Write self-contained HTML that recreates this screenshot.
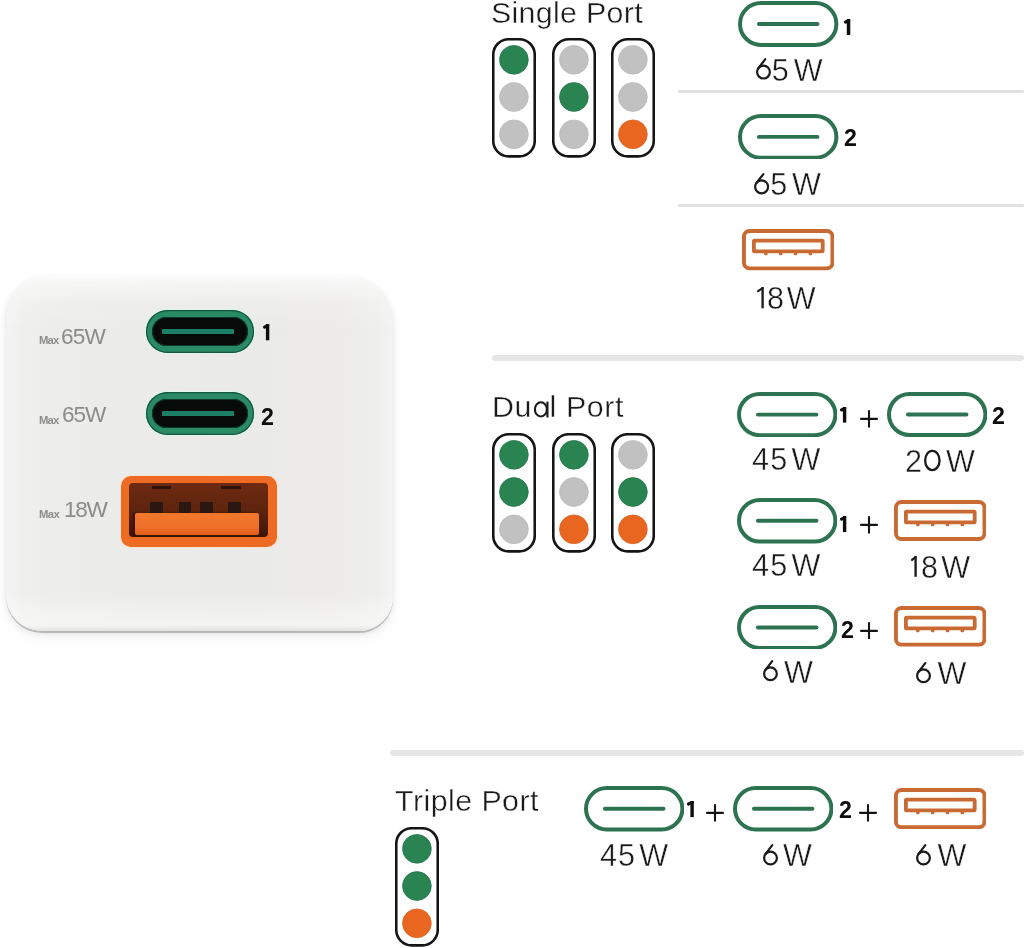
<!DOCTYPE html>
<html><head><meta charset="utf-8"><style>
*{margin:0;padding:0;box-sizing:border-box}
html,body{width:1025px;height:948px;background:#fff;overflow:hidden}
body{position:relative;font-family:"Liberation Sans",sans-serif;color:#1c1c1c}
.a{position:absolute}
.h,.w,.n,.cl{line-height:1;white-space:nowrap;will-change:transform}
.h{color:#1a1a1a;-webkit-text-stroke:0.4px #fff}
.w{color:#1a1a1a;-webkit-text-stroke:0.4px #fff}
.w .g{margin-left:3.3px}
.w .z,.h .z{color:transparent}
.n{font-weight:bold;color:#0d0d0d}
.cl{color:#8b8b8b}
.mx{font-weight:bold;color:#8e8e8e}
</style></head><body>
<div class="a" style="left:6px;top:274.5px;width:387px;height:356.5px;border-radius:40px 46px 34px 36px;background:linear-gradient(180deg,rgba(255,255,255,0.85) 0px,rgba(255,255,255,0.45) 12px,rgba(255,255,255,0.12) 30px,rgba(255,255,255,0) 60px,rgba(255,255,255,0) 318px,rgba(255,255,255,0.3) 336px,rgba(255,255,255,0.45) 350px,rgba(0,0,0,0.04) 356px),linear-gradient(90deg,#f4f4f4 0px,#f0f0ef 14px,#ededec 40px,#ebebe9 120px,#eaeae8 230px,#ecebea 330px,#efefee 372px,#f3f3f3 387px);box-shadow:0 1.2px 0.8px rgba(0,0,0,0.22),0 3px 6px rgba(0,0,0,0.07),0 8px 14px rgba(0,0,0,0.04)"></div>
<div class="a" style="left:145.6px;top:309.7px;width:108.6px;height:43.4px;border-radius:21.7px;background:#2a8a66;box-shadow:0 0 0 1px #dcf6ea, inset 0 0 0 1.2px #15563d">
<div class="a" style="left:6.2px;top:7.2px;width:96.1px;height:29.4px;border-radius:14.7px;background:#060a08;box-shadow:inset 0 0 0 1px #0e3a2a"></div>
<div class="a" style="left:16.8px;top:19.1px;width:71.3px;height:5.4px;background:#1c7f68;border-radius:1px"></div></div>
<div class="a" style="left:145.5px;top:391.9px;width:108.6px;height:43.1px;border-radius:21.55px;background:#2a8a66;box-shadow:0 0 0 1px #dcf6ea, inset 0 0 0 1.2px #15563d">
<div class="a" style="left:6.2px;top:7.2px;width:96.1px;height:29.1px;border-radius:14.55px;background:#060a08;box-shadow:inset 0 0 0 1px #0e3a2a"></div>
<div class="a" style="left:16.8px;top:18.95px;width:71.3px;height:5.4px;background:#1c7f68;border-radius:1px"></div></div>
<div class="a" style="left:121px;top:475.5px;width:156px;height:71.5px;border-radius:10px;background:#ed6b22;box-shadow:0 0 0 1px #fbe3d0">
<div class="a" style="left:7.5px;top:7.6px;width:139.8px;height:54px;border-radius:4px;background:linear-gradient(180deg,#6e2a10 0%,#5e240e 50%,#3c1408 100%)"></div>
<div class="a" style="left:13.8px;top:37.5px;width:124px;height:22px;border-radius:2px;background:linear-gradient(180deg,#f2782c 0%,#f0702a 60%,#e0601c 100%);box-shadow:-2px 0 2px #3a1006"></div>
</div>
<div class="a" style="left:150.4px;top:502.3px;width:12.7px;height:11px;background:#2a1711;border-radius:1px"></div>
<div class="a" style="left:178.7px;top:502.3px;width:12.7px;height:11px;background:#2a1711;border-radius:1px"></div>
<div class="a" style="left:200.3px;top:502.3px;width:13.1px;height:11px;background:#2a1711;border-radius:1px"></div>
<div class="a" style="left:227.5px;top:502.3px;width:13.2px;height:11px;background:#2a1711;border-radius:1px"></div>
<div class="a" style="left:152.1px;top:485.5px;width:19.4px;height:3.8px;background:#2c1208"></div>
<div class="a" style="left:221.3px;top:485.5px;width:19.4px;height:3.8px;background:#2c1208"></div>
<svg class="a" style="left:491.6px;top:37.9px" width="44" height="120" viewBox="0 0 44 120"><rect x="1.25" y="1.25" width="41.5" height="117.1" rx="15.5" ry="15.5" fill="#fff" stroke="#151515" stroke-width="2.6"/><circle cx="21.9" cy="21.8" r="14.4" fill="#2a8451" stroke="#21744a" stroke-width="0.7"/><circle cx="21.9" cy="59.0" r="14.4" fill="#c1c1c1" stroke="#b9b9b9" stroke-width="0.7"/><circle cx="21.9" cy="96.3" r="14.4" fill="#c1c1c1" stroke="#b9b9b9" stroke-width="0.7"/></svg>
<svg class="a" style="left:552.3px;top:37.9px" width="44" height="120" viewBox="0 0 44 120"><rect x="1.25" y="1.25" width="41.5" height="117.1" rx="15.5" ry="15.5" fill="#fff" stroke="#151515" stroke-width="2.6"/><circle cx="21.9" cy="21.8" r="14.4" fill="#c1c1c1" stroke="#b9b9b9" stroke-width="0.7"/><circle cx="21.9" cy="59.0" r="14.4" fill="#2a8451" stroke="#21744a" stroke-width="0.7"/><circle cx="21.9" cy="96.3" r="14.4" fill="#c1c1c1" stroke="#b9b9b9" stroke-width="0.7"/></svg>
<svg class="a" style="left:611.2px;top:37.9px" width="44" height="120" viewBox="0 0 44 120"><rect x="1.25" y="1.25" width="41.5" height="117.1" rx="15.5" ry="15.5" fill="#fff" stroke="#151515" stroke-width="2.6"/><circle cx="21.9" cy="21.8" r="14.4" fill="#c1c1c1" stroke="#b9b9b9" stroke-width="0.7"/><circle cx="21.9" cy="59.0" r="14.4" fill="#c1c1c1" stroke="#b9b9b9" stroke-width="0.7"/><circle cx="21.9" cy="96.3" r="14.4" fill="#e86620" stroke="#dc5e1c" stroke-width="0.7"/></svg>
<svg class="a" style="left:491.6px;top:432.9px" width="44" height="120" viewBox="0 0 44 120"><rect x="1.25" y="1.25" width="41.5" height="117.1" rx="15.5" ry="15.5" fill="#fff" stroke="#151515" stroke-width="2.6"/><circle cx="21.9" cy="21.8" r="14.4" fill="#2a8451" stroke="#21744a" stroke-width="0.7"/><circle cx="21.9" cy="59.0" r="14.4" fill="#2a8451" stroke="#21744a" stroke-width="0.7"/><circle cx="21.9" cy="96.3" r="14.4" fill="#c1c1c1" stroke="#b9b9b9" stroke-width="0.7"/></svg>
<svg class="a" style="left:552.4px;top:432.9px" width="44" height="120" viewBox="0 0 44 120"><rect x="1.25" y="1.25" width="41.5" height="117.1" rx="15.5" ry="15.5" fill="#fff" stroke="#151515" stroke-width="2.6"/><circle cx="21.9" cy="21.8" r="14.4" fill="#2a8451" stroke="#21744a" stroke-width="0.7"/><circle cx="21.9" cy="59.0" r="14.4" fill="#c1c1c1" stroke="#b9b9b9" stroke-width="0.7"/><circle cx="21.9" cy="96.3" r="14.4" fill="#e86620" stroke="#dc5e1c" stroke-width="0.7"/></svg>
<svg class="a" style="left:610.8px;top:432.9px" width="44" height="120" viewBox="0 0 44 120"><rect x="1.25" y="1.25" width="41.5" height="117.1" rx="15.5" ry="15.5" fill="#fff" stroke="#151515" stroke-width="2.6"/><circle cx="21.9" cy="21.8" r="14.4" fill="#c1c1c1" stroke="#b9b9b9" stroke-width="0.7"/><circle cx="21.9" cy="59.0" r="14.4" fill="#2a8451" stroke="#21744a" stroke-width="0.7"/><circle cx="21.9" cy="96.3" r="14.4" fill="#e86620" stroke="#dc5e1c" stroke-width="0.7"/></svg>
<svg class="a" style="left:394.5px;top:827.3px" width="44" height="120" viewBox="0 0 44 120"><rect x="1.25" y="1.25" width="41.5" height="117.1" rx="15.5" ry="15.5" fill="#fff" stroke="#151515" stroke-width="2.6"/><circle cx="21.9" cy="21.8" r="14.4" fill="#2a8451" stroke="#21744a" stroke-width="0.7"/><circle cx="21.9" cy="59.0" r="14.4" fill="#2a8451" stroke="#21744a" stroke-width="0.7"/><circle cx="21.9" cy="96.3" r="14.4" fill="#e86620" stroke="#dc5e1c" stroke-width="0.7"/></svg>
<div class="a" style="left:678.3px;top:90.3px;width:345.7px;height:3px;background:#e1e1e1;border-radius:1.5px"></div>
<div class="a" style="left:678.3px;top:204.3px;width:345.7px;height:3px;background:#e2e2e2;border-radius:1.5px"></div>
<div class="a" style="left:491.7px;top:355.0px;width:532.3px;height:6px;background:#e6e6e6;border-radius:3.0px"></div>
<div class="a" style="left:389.7px;top:749.5px;width:634.3px;height:6px;background:#e6e6e6;border-radius:3.0px"></div>
<svg class="a" style="left:738.2px;top:1.3px" width="100.4" height="45.9" viewBox="0 0 100.4 45.9"><rect x="2.0" y="2.0" width="96.4" height="41.9" rx="20.95" fill="none" stroke="#2d7352" stroke-width="4.0"/><line x1="20.9" y1="22.95" x2="79.5" y2="22.95" stroke="#2d7352" stroke-width="3.9" stroke-linecap="round"/></svg>
<svg class="a" style="left:738.4px;top:113.6px" width="100.4" height="45.8" viewBox="0 0 100.4 45.8"><rect x="2.0" y="2.0" width="96.4" height="41.8" rx="20.9" fill="none" stroke="#2d7352" stroke-width="4.0"/><line x1="20.9" y1="22.9" x2="79.5" y2="22.9" stroke="#2d7352" stroke-width="3.9" stroke-linecap="round"/></svg>
<svg class="a" style="left:742px;top:229.3px" width="92.4" height="41.3" viewBox="0 0 92.4 41.3"><rect x="1.95" y="1.95" width="88.5" height="37.4" rx="5.5" fill="none" stroke="#c96a32" stroke-width="3.9"/><rect x="11.9" y="11.6" width="68.8" height="10.7" rx="0.6" fill="none" stroke="#c96a32" stroke-width="3.8"/><rect x="22.0" y="23.5" width="3.6" height="2.8" rx="1.2" fill="#c96a32"/><rect x="36.9" y="23.5" width="3.6" height="2.8" rx="1.2" fill="#c96a32"/><rect x="51.7" y="23.5" width="3.6" height="2.8" rx="1.2" fill="#c96a32"/><rect x="66.6" y="23.5" width="3.6" height="2.8" rx="1.2" fill="#c96a32"/></svg>
<svg class="a" style="left:736.6px;top:392.3px" width="100.4" height="45.2" viewBox="0 0 100.4 45.2"><rect x="2.0" y="2.0" width="96.4" height="41.2" rx="20.6" fill="none" stroke="#2d7352" stroke-width="4.0"/><line x1="20.9" y1="22.6" x2="79.5" y2="22.6" stroke="#2d7352" stroke-width="3.9" stroke-linecap="round"/></svg>
<svg class="a" style="left:886.6px;top:392.4px" width="100.4" height="45.0" viewBox="0 0 100.4 45.0"><rect x="2.0" y="2.0" width="96.4" height="41.0" rx="20.5" fill="none" stroke="#2d7352" stroke-width="4.0"/><line x1="20.9" y1="22.5" x2="79.5" y2="22.5" stroke="#2d7352" stroke-width="3.9" stroke-linecap="round"/></svg>
<svg class="a" style="left:737px;top:498px" width="100.4" height="45.6" viewBox="0 0 100.4 45.6"><rect x="2.0" y="2.0" width="96.4" height="41.6" rx="20.8" fill="none" stroke="#2d7352" stroke-width="4.0"/><line x1="20.9" y1="22.8" x2="79.5" y2="22.8" stroke="#2d7352" stroke-width="3.9" stroke-linecap="round"/></svg>
<svg class="a" style="left:894.1px;top:500.4px" width="92.4" height="40.9" viewBox="0 0 92.4 40.9"><rect x="1.95" y="1.95" width="88.5" height="37.0" rx="5.5" fill="none" stroke="#c96a32" stroke-width="3.9"/><rect x="11.9" y="11.6" width="68.8" height="10.7" rx="0.6" fill="none" stroke="#c96a32" stroke-width="3.8"/><rect x="22.0" y="23.5" width="3.6" height="2.8" rx="1.2" fill="#c96a32"/><rect x="36.9" y="23.5" width="3.6" height="2.8" rx="1.2" fill="#c96a32"/><rect x="51.7" y="23.5" width="3.6" height="2.8" rx="1.2" fill="#c96a32"/><rect x="66.6" y="23.5" width="3.6" height="2.8" rx="1.2" fill="#c96a32"/></svg>
<svg class="a" style="left:736.5px;top:604.5px" width="100.4" height="44.9" viewBox="0 0 100.4 44.9"><rect x="2.0" y="2.0" width="96.4" height="40.9" rx="20.45" fill="none" stroke="#2d7352" stroke-width="4.0"/><line x1="20.9" y1="22.45" x2="79.5" y2="22.45" stroke="#2d7352" stroke-width="3.9" stroke-linecap="round"/></svg>
<svg class="a" style="left:894px;top:606.4px" width="92.4" height="40.6" viewBox="0 0 92.4 40.6"><rect x="1.95" y="1.95" width="88.5" height="36.7" rx="5.5" fill="none" stroke="#c96a32" stroke-width="3.9"/><rect x="11.9" y="11.6" width="68.8" height="10.7" rx="0.6" fill="none" stroke="#c96a32" stroke-width="3.8"/><rect x="22.0" y="23.5" width="3.6" height="2.8" rx="1.2" fill="#c96a32"/><rect x="36.9" y="23.5" width="3.6" height="2.8" rx="1.2" fill="#c96a32"/><rect x="51.7" y="23.5" width="3.6" height="2.8" rx="1.2" fill="#c96a32"/><rect x="66.6" y="23.5" width="3.6" height="2.8" rx="1.2" fill="#c96a32"/></svg>
<svg class="a" style="left:583.5px;top:786.2px" width="100.4" height="45.5" viewBox="0 0 100.4 45.5"><rect x="2.0" y="2.0" width="96.4" height="41.5" rx="20.75" fill="none" stroke="#2d7352" stroke-width="4.0"/><line x1="20.9" y1="22.75" x2="79.5" y2="22.75" stroke="#2d7352" stroke-width="3.9" stroke-linecap="round"/></svg>
<svg class="a" style="left:732.5px;top:786.4px" width="100.4" height="45.5" viewBox="0 0 100.4 45.5"><rect x="2.0" y="2.0" width="96.4" height="41.5" rx="20.75" fill="none" stroke="#2d7352" stroke-width="4.0"/><line x1="20.9" y1="22.75" x2="79.5" y2="22.75" stroke="#2d7352" stroke-width="3.9" stroke-linecap="round"/></svg>
<svg class="a" style="left:894px;top:788.4px" width="92.4" height="41.1" viewBox="0 0 92.4 41.1"><rect x="1.95" y="1.95" width="88.5" height="37.2" rx="5.5" fill="none" stroke="#c96a32" stroke-width="3.9"/><rect x="11.9" y="11.6" width="68.8" height="10.7" rx="0.6" fill="none" stroke="#c96a32" stroke-width="3.8"/><rect x="22.0" y="23.5" width="3.6" height="2.8" rx="1.2" fill="#c96a32"/><rect x="36.9" y="23.5" width="3.6" height="2.8" rx="1.2" fill="#c96a32"/><rect x="51.7" y="23.5" width="3.6" height="2.8" rx="1.2" fill="#c96a32"/><rect x="66.6" y="23.5" width="3.6" height="2.8" rx="1.2" fill="#c96a32"/></svg>
<svg class="a" style="left:859.9px;top:410.0px" width="18" height="17.8" viewBox="0 0 18 17.8"><line x1="1.05" y1="8.9" x2="16.95" y2="8.9" stroke="#151515" stroke-width="2.1" stroke-linecap="round"/><line x1="9.0" y1="1.05" x2="9.0" y2="16.75" stroke="#151515" stroke-width="2.1" stroke-linecap="round"/></svg>
<svg class="a" style="left:859.9px;top:515.9px" width="18" height="17.8" viewBox="0 0 18 17.8"><line x1="1.05" y1="8.9" x2="16.95" y2="8.9" stroke="#151515" stroke-width="2.1" stroke-linecap="round"/><line x1="9.0" y1="1.05" x2="9.0" y2="16.75" stroke="#151515" stroke-width="2.1" stroke-linecap="round"/></svg>
<svg class="a" style="left:859.85px;top:621.6px" width="18" height="17.8" viewBox="0 0 18 17.8"><line x1="1.05" y1="8.9" x2="16.95" y2="8.9" stroke="#151515" stroke-width="2.1" stroke-linecap="round"/><line x1="9.0" y1="1.05" x2="9.0" y2="16.75" stroke="#151515" stroke-width="2.1" stroke-linecap="round"/></svg>
<svg class="a" style="left:706.2px;top:804.1px" width="18" height="17.8" viewBox="0 0 18 17.8"><line x1="1.05" y1="8.9" x2="16.95" y2="8.9" stroke="#151515" stroke-width="2.1" stroke-linecap="round"/><line x1="9.0" y1="1.05" x2="9.0" y2="16.75" stroke="#151515" stroke-width="2.1" stroke-linecap="round"/></svg>
<svg class="a" style="left:858.5px;top:804.1px" width="18" height="17.8" viewBox="0 0 18 17.8"><line x1="1.05" y1="8.9" x2="16.95" y2="8.9" stroke="#151515" stroke-width="2.1" stroke-linecap="round"/><line x1="9.0" y1="1.05" x2="9.0" y2="16.75" stroke="#151515" stroke-width="2.1" stroke-linecap="round"/></svg>
<div id="H1" class="a h" style="left:490.60px;top:-2.68px;font-size:30.4px;letter-spacing:0.30px">Single Port</div>
<div id="H2" class="a h" style="left:492.40px;top:390.96px;font-size:30.4px;letter-spacing:0.60px">Du<span class=z>a</span>l Port</div>
<div id="H3" class="a h" style="left:394.56px;top:785.20px;font-size:30.4px;letter-spacing:0.44px">Triple Port</div>
<div id="W1" class="a w" style="left:752.80px;top:54.88px;font-size:30.6px;letter-spacing:1.67px"><span class=z>6</span>5<span class=g>W</span></div>
<div id="W2" class="a w" style="left:751.96px;top:168.72px;font-size:30.6px;letter-spacing:1.31px"><span class=z>6</span>5<span class=g>W</span></div>
<div id="W3" class="a w" style="left:767.08px;top:282.96px;font-size:30.6px;letter-spacing:-0.48px">8<span class=g>W</span></div>
<div id="W4" class="a w" style="left:752.08px;top:444.48px;font-size:30.6px;letter-spacing:1.13px">45<span class=g>W</span></div>
<div id="W5" class="a w" style="left:905.00px;top:445.72px;font-size:30.6px;letter-spacing:1.89px">2<span class=z>0</span><span class=g>W</span></div>
<div id="W6" class="a w" style="left:752.08px;top:550.48px;font-size:30.6px;letter-spacing:1.13px">45<span class=g>W</span></div>
<div id="W7" class="a w" style="left:921.32px;top:551.72px;font-size:30.6px;letter-spacing:0.01px">8<span class=g>W</span></div>
<div id="W8" class="a w" style="left:761.00px;top:656.64px;font-size:30.6px;letter-spacing:2.58px"><span class=z>6</span><span class=g>W</span></div>
<div id="W9" class="a w" style="left:914.52px;top:658.04px;font-size:30.6px;letter-spacing:2.05px"><span class=z>6</span><span class=g>W</span></div>
<div id="W10" class="a w" style="left:599.56px;top:839.56px;font-size:30.6px;letter-spacing:0.99px">45<span class=g>W</span></div>
<div id="W11" class="a w" style="left:760.12px;top:840.32px;font-size:30.6px;letter-spacing:2.62px"><span class=z>6</span><span class=g>W</span></div>
<div id="W12" class="a w" style="left:914.52px;top:840.32px;font-size:30.6px;letter-spacing:2.05px"><span class=z>6</span><span class=g>W</span></div>
<div id="N2" class="a n" style="left:843.72px;top:126.64px;font-size:23.2px;letter-spacing:0.00px">2</div>
<div id="N4" class="a n" style="left:992.04px;top:404.56px;font-size:23.2px;letter-spacing:0.00px">2</div>
<div id="N6" class="a n" style="left:840.56px;top:619.48px;font-size:23.2px;letter-spacing:0.00px">2</div>
<div id="N8" class="a n" style="left:838.96px;top:798.88px;font-size:23.2px;letter-spacing:0.00px">2</div>
<div id="C2n" class="a n" style="left:260.92px;top:406.16px;font-size:23.2px;letter-spacing:0.00px">2</div>
<div id="L1" class="a cl" style="left:61.48px;top:325.68px;font-size:22.6px;letter-spacing:-0.81px">65W</div>
<div id="L2" class="a cl" style="left:62.12px;top:404.20px;font-size:22.6px;letter-spacing:-1.12px">65W</div>
<div id="L3" class="a cl" style="left:64.08px;top:498.76px;font-size:22.6px;letter-spacing:-1.30px">18W</div>
<div id="M1" class="a cl mx" style="left:38.68px;top:334.92px;font-size:11.3px;letter-spacing:-0.81px">Max</div>
<div id="M2" class="a cl mx" style="left:38.68px;top:414.88px;font-size:11.3px;letter-spacing:-0.81px">Max</div>
<div id="M3" class="a cl mx" style="left:38.52px;top:508.80px;font-size:11.3px;letter-spacing:-0.62px">Max</div>
<svg class="a" style="left:843.00px;top:18.00px" width="8.30" height="18.00" viewBox="0 0 8.30 18.00"><rect x="3.80" y="1" width="3.5" height="16.00" fill="#0d0d0d"/><line x1="2.58" y1="4.04" x2="5.55" y2="2.58" stroke="#0d0d0d" stroke-width="3.22" stroke-linecap="round"/></svg>
<svg class="a" style="left:753.50px;top:56.30px" width="19.00" height="25.60"><circle cx="9.50" cy="16.10" r="6.40" fill="none" stroke="#1a1a1a" stroke-width="2.2"/><line x1="11.30" y1="3.10" x2="4.39" y2="12.24" stroke="#1a1a1a" stroke-width="2.2" stroke-linecap="round"/></svg>
<svg class="a" style="left:530px;top:398px" width="22" height="23" viewBox="0 0 22 23"><ellipse cx="10.9" cy="11.4" rx="6.0" ry="7.1" fill="none" stroke="#1a1a1a" stroke-width="2.1"/><line x1="17.45" y1="3.6" x2="17.45" y2="19.5" stroke="#1a1a1a" stroke-width="2.1"/></svg>
<svg class="a" style="left:752.10px;top:170.70px" width="19.20" height="25.40"><circle cx="9.60" cy="15.80" r="6.50" fill="none" stroke="#1a1a1a" stroke-width="2.2"/><line x1="11.42" y1="3.10" x2="4.52" y2="11.74" stroke="#1a1a1a" stroke-width="2.2" stroke-linecap="round"/></svg>
<svg class="a" style="left:761.00px;top:658.40px" width="18.90" height="25.20"><circle cx="9.45" cy="15.75" r="6.35" fill="none" stroke="#1a1a1a" stroke-width="2.2"/><line x1="11.24" y1="3.10" x2="4.44" y2="11.85" stroke="#1a1a1a" stroke-width="2.2" stroke-linecap="round"/></svg>
<svg class="a" style="left:914.20px;top:659.90px" width="19.00" height="25.30"><circle cx="9.50" cy="15.80" r="6.40" fill="none" stroke="#1a1a1a" stroke-width="2.2"/><line x1="11.30" y1="3.10" x2="4.46" y2="11.86" stroke="#1a1a1a" stroke-width="2.2" stroke-linecap="round"/></svg>
<svg class="a" style="left:760.70px;top:842.20px" width="19.00" height="25.50"><circle cx="9.50" cy="16.00" r="6.40" fill="none" stroke="#1a1a1a" stroke-width="2.2"/><line x1="11.30" y1="3.10" x2="4.41" y2="12.12" stroke="#1a1a1a" stroke-width="2.2" stroke-linecap="round"/></svg>
<svg class="a" style="left:914.20px;top:842.20px" width="19.00" height="25.50"><circle cx="9.50" cy="16.00" r="6.40" fill="none" stroke="#1a1a1a" stroke-width="2.2"/><line x1="11.30" y1="3.10" x2="4.41" y2="12.12" stroke="#1a1a1a" stroke-width="2.2" stroke-linecap="round"/></svg>
<svg class="a" style="left:922px;top:448px" width="21" height="25" viewBox="0 0 21 25"><ellipse cx="10.35" cy="12.45" rx="7.2" ry="9.6" fill="none" stroke="#1a1a1a" stroke-width="2.3"/></svg>
<svg class="a" style="left:839.40px;top:406.10px" width="8.30" height="17.60" viewBox="0 0 8.30 17.60"><rect x="3.90" y="1" width="3.4" height="15.60" fill="#0d0d0d"/><line x1="2.53" y1="3.96" x2="5.60" y2="2.53" stroke="#0d0d0d" stroke-width="3.13" stroke-linecap="round"/></svg>
<svg class="a" style="left:839.40px;top:514.60px" width="8.30" height="18.10" viewBox="0 0 8.30 18.10"><rect x="3.90" y="1" width="3.4" height="16.10" fill="#0d0d0d"/><line x1="2.53" y1="4.06" x2="5.60" y2="2.53" stroke="#0d0d0d" stroke-width="3.13" stroke-linecap="round"/></svg>
<svg class="a" style="left:685.90px;top:800.00px" width="8.80" height="18.10" viewBox="0 0 8.80 18.10"><rect x="4.40" y="1" width="3.4" height="16.10" fill="#0d0d0d"/><line x1="2.53" y1="4.06" x2="6.10" y2="2.53" stroke="#0d0d0d" stroke-width="3.13" stroke-linecap="round"/></svg>
<svg class="a" style="left:261.70px;top:323.30px" width="8.30" height="18.30" viewBox="0 0 8.30 18.30"><rect x="3.90" y="1" width="3.4" height="16.30" fill="#0d0d0d"/><line x1="2.53" y1="4.10" x2="5.60" y2="2.53" stroke="#0d0d0d" stroke-width="3.13" stroke-linecap="round"/></svg>
<svg class="a" style="left:755.90px;top:285.80px" width="8.80" height="23.30" viewBox="0 0 8.80 23.30"><rect x="5.40" y="1" width="2.4" height="21.30" fill="#1e1e1e"/><line x1="2.08" y1="5.05" x2="6.60" y2="2.08" stroke="#1e1e1e" stroke-width="2.21" stroke-linecap="round"/></svg>
<svg class="a" style="left:909.80px;top:554.90px" width="7.80" height="22.80" viewBox="0 0 7.80 22.80"><rect x="4.40" y="1" width="2.4" height="20.80" fill="#1e1e1e"/><line x1="2.08" y1="4.95" x2="5.60" y2="2.08" stroke="#1e1e1e" stroke-width="2.21" stroke-linecap="round"/></svg>
</body></html>
